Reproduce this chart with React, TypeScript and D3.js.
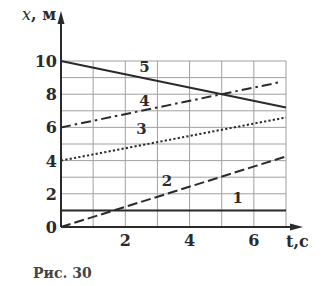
import React from "react";
import * as d3 from "d3";

const tTicks = [2, 4, 6];
const xTicks = [0, 2, 4, 6, 8, 10];
const gridT = [0, 1, 2, 3, 4, 5, 6, 7];
const gridX = [0, 1, 2, 3, 4, 5, 6, 7, 8, 9, 10];

const lineIds = ["1", "2", "3", "4", "5"];
const startT = [0, 0, 0, 0, 0];
const endT = [7, 7, 7, 6.8, 7];
const startX = [1, 0, 4, 6, 10];
const endX = [1, 4.25, 6.6, 8.72, 7.2];
const labelT = [5.5, 3.3, 2.5, 2.6, 2.6];
const labelX = [1.45, 2.45, 5.6, 7.3, 9.35];

const dashes = ["", "10,4", "2.2,2.2", "10,4,2.5,4", ""];

export default function App() {
  const W = 323, H = 286;
  const tS = d3.scaleLinear().domain([0, 7]).range([61, 286]);
  const xS = d3.scaleLinear().domain([0, 10]).range([227, 61]);
  const line = d3.line<[number, number]>().x(d => tS(d[0])).y(d => xS(d[1]));
  const font = "'DejaVu Serif', 'Liberation Serif', serif";
  const ink = "#2a2a2a";

  return (
    <svg width={W} height={H} style={{ position: "absolute", left: 0, top: 0, background: "#fff" }}>
      <rect width={W} height={H} fill="#fff" />
      {gridT.map(t => (
        <line key={"gt" + t} x1={tS(t)} x2={tS(t)} y1={xS(0)} y2={xS(10)} stroke="#a0a0a0" strokeWidth={1} />
      ))}
      {gridX.map(x => (
        <line key={"gx" + x} x1={tS(0)} x2={tS(7)} y1={xS(x)} y2={xS(x)} stroke="#a0a0a0" strokeWidth={1} />
      ))}
      {/* axes */}
      <line x1={tS(0)} x2={tS(0)} y1={xS(0)} y2={18} stroke={ink} strokeWidth={2} />
      <path d={`M${tS(0)},11 L${tS(0) - 3.5},24 L${tS(0) + 3.5},24 Z`} fill={ink} />
      <line x1={tS(0)} x2={296} y1={xS(0)} y2={xS(0)} stroke={ink} strokeWidth={2} />
      <path d={`M303,${xS(0)} L290,${xS(0) - 3.5} L290,${xS(0) + 3.5} Z`} fill={ink} />

      {lineIds.map((id, i) => (
        <path
          key={"l" + id}
          d={line([[startT[i], startX[i]], [endT[i], endX[i]]]) || ""}
          fill="none"
          stroke={ink}
          strokeWidth={2}
          strokeDasharray={dashes[i] || undefined}
        />
      ))}
      {lineIds.map((id, i) => (
        <text key={"lb" + id} x={tS(labelT[i])} y={xS(labelX[i])} fontFamily={font} fontWeight="bold" fontSize={15} fill={ink} textAnchor="middle">
          {id}
        </text>
      ))}

      {xTicks.map(x => (
        <text key={"yt" + x} x={57} y={xS(x) + 6} fontFamily={font} fontWeight="bold" fontSize={16} fill={ink} textAnchor="end">
          {x}
        </text>
      ))}
      {tTicks.map(t => (
        <text key={"xt" + t} x={tS(t)} y={246} fontFamily={font} fontWeight="bold" fontSize={16} fill={ink} textAnchor="middle">
          {t}
        </text>
      ))}
      <text x={286} y={247} fontFamily={font} fontWeight="bold" fontSize={16} fill={ink}>t,c</text>
      <text x={22} y={20} fontFamily={font} fontSize={16} fill={ink}>
        <tspan fontStyle="italic">x</tspan>
        <tspan fontWeight="bold">, м</tspan>
      </text>
      <text x={33} y={278} fontFamily={font} fontWeight="bold" fontSize={14} fill="#444">Рис. 30</text>
    </svg>
  );
}
